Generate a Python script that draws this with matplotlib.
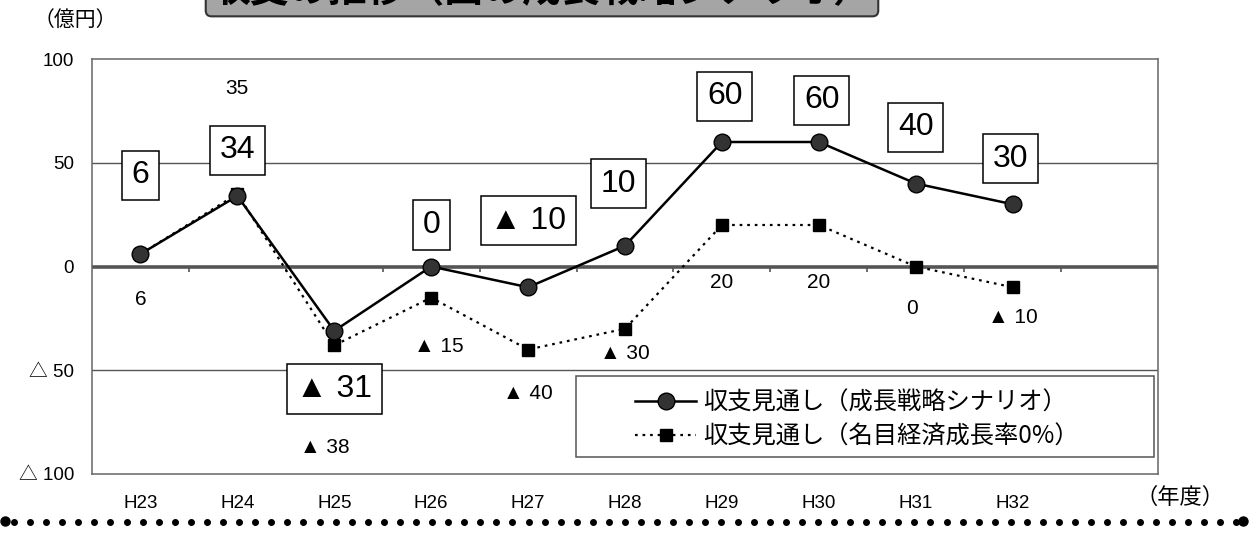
import numpy as np
import matplotlib
matplotlib.use("Agg")
import matplotlib.pyplot as plt
from matplotlib.lines import Line2D
from matplotlib.patches import Rectangle

plt.rcParams['font.family'] = ['Liberation Sans', 'Noto Sans CJK JP', 'DejaVu Sans']

years = ['H23', 'H24', 'H25', 'H26', 'H27', 'H28', 'H29', 'H30', 'H31', 'H32']
growth = [6, 34, -31, 0, -10, 10, 60, 60, 40, 30]          # 成長戦略シナリオ
zero_growth = [6, 35, -38, -15, -40, -30, 20, 20, 0, -10]  # 名目経済成長率0%
yticks = [100, 50, 0, -50, -100]
ytick_labels = ['100', '50', '0', '△ 50', '△ 100']
title = '収支の推移（国の成長戦略シナリオ）'
name_growth = '収支見通し（成長戦略シナリオ）'
name_zero = '収支見通し（名目経済成長率0%）'

# label offsets (data units) for each point
growth_dy = [38, 22, -28, 20, 32, 30, 22, 20, 27, 22]
growth_dx = [0, 0, 0, 0, 0, -0.07, 0.03, 0.03, 0, -0.02]
zero_dy = [-22, 51, -49, -23.5, -21, -12, -27.7, -27.7, -20, -14.6]
zero_dx = [0, 0, -0.1, 0.08, 0, 0, 0, 0, -0.04, 0]

cjk = ['Noto Sans CJK JP', 'DejaVu Sans']


def fmt(v):
    # negative numbers are written with a black triangle
    return '▲ %d' % abs(v) if v < 0 else '%d' % v


fig = plt.figure(figsize=(12.49, 5.35), dpi=100)
ax = fig.add_axes([92 / 1249, 1 - 474 / 535, 1066 / 1249, 415 / 535])

x = np.arange(len(years))

l_zero, = ax.plot(x, zero_growth, ls=(0, (1.2, 2.2)), lw=1.6, color='black',
                  marker='s', ms=9, mfc='black', mec='black', zorder=3)
l_growth, = ax.plot(x, growth, ls='-', lw=1.8, color='black',
                    marker='o', ms=12, mfc='#333333', mec='black', zorder=4)

# boxed labels for the growth scenario
for i, v in enumerate(growth):
    ax.text(x[i] + growth_dx[i], v + growth_dy[i], fmt(v),
            ha='center', va='center', fontsize=23, zorder=6,
            bbox=dict(boxstyle='square,pad=0.3', fc='white', ec='black', lw=1.1))

# plain labels for the 0% scenario
for i, v in enumerate(zero_growth):
    ax.text(x[i] + zero_dx[i], v + zero_dy[i], fmt(v),
            ha='center', va='center', fontsize=15, zorder=6)

ax.set_xlim(-0.5, 10.5)
ax.set_ylim(-100, 100)

# grid and zero line
for g in [50, -50]:
    ax.axhline(g, color='#555555', lw=1.0, zorder=1)
ax.axhline(0, color='#555555', lw=2.6, zorder=2)
ax.vlines(np.arange(len(years)) + 0.5, -2.5, 0, color='#555555', lw=1.2, zorder=2)

for s in ax.spines.values():
    s.set_color('#666666')
    s.set_linewidth(1.1)

ax.set_yticks(yticks)
ax.set_yticklabels(ytick_labels, fontsize=13.5)
ax.set_xticks(x)
ax.set_xticklabels(years, fontsize=13.5)
ax.tick_params(axis='both', length=0)
ax.tick_params(axis='y', pad=13)
ax.tick_params(axis='x', pad=15)

# legend frame drawn separately so it can be wider than its contents
ax.add_patch(Rectangle((0.454, 0.042), 0.542, 0.193, transform=ax.transAxes,
                       fc='white', ec='#555555', lw=1.1, zorder=7))
leg = ax.legend([l_growth, l_zero], [name_growth, name_zero], loc='center left',
                bbox_to_anchor=(0.505, 0.131), prop={'family': cjk, 'size': 17.5},
                handlelength=2.5, frameon=False,
                borderpad=0.2, labelspacing=0.35, handletextpad=0.3,
                borderaxespad=0)
leg.set_zorder(8)

fig.text(75 / 1249, 1 - 20 / 535, '（億円）', ha='center', va='center', fontsize=15,
         family=cjk)
fig.text(1180 / 1249, 1 - 497 / 535, '（年度）', ha='center', va='center', fontsize=16,
         family=cjk)

fig.text(542 / 1249, 1 + 9 / 535, title, ha='center', va='center', fontsize=28,
         fontweight='bold', family=cjk,
         bbox=dict(boxstyle='round,pad=0.15', fc='#a5a5a5', ec='#333333', lw=1.5))

# dotted rule along the bottom
dx = np.linspace(14 / 1249, 1236 / 1249, 77)
fig.add_artist(Line2D(dx, np.full_like(dx, 1 - 522 / 535), ls='none', marker='o',
                      ms=4, color='black', transform=fig.transFigure))
fig.add_artist(Line2D([5 / 1249, 1243 / 1249], [1 - 521 / 535] * 2, ls='none',
                      marker='o', ms=6.5, color='black', transform=fig.transFigure))

fig.savefig('out.png', dpi=100)
